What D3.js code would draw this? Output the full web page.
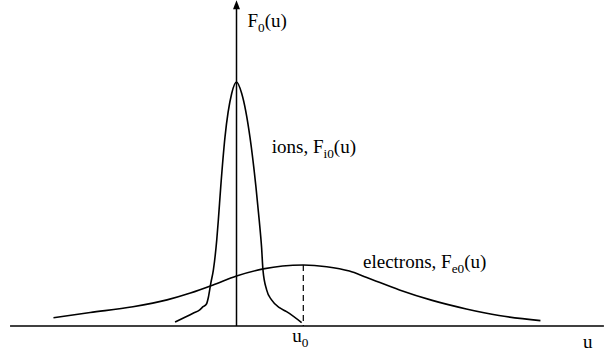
<!DOCTYPE html>
<html>
<head>
<meta charset="utf-8">
<script src="https://cdn.jsdelivr.net/npm/d3@7"></script>
<style>
body { margin: 0; background: #fff; }
</style>
</head>
<body>
<div id="chart"></div>
<script>
// ion distribution F_i0(u), narrow peak at u = 0
var ionU = [-0.92, -0.65, -0.55, -0.50, -0.45, -0.42, -0.385, -0.346, -0.296, -0.272, -0.236, -0.172, -0.072, 0,
            0.078, 0.201, 0.291, 0.340, 0.376, 0.396, 0.451, 0.525, 0.649, 0.749, 0.975];
var ionF = [0.016, 0.052, 0.066, 0.079, 0.090, 0.119, 0.175, 0.230, 0.352, 0.434, 0.570, 0.775, 0.953, 1.0,
            0.953, 0.775, 0.570, 0.434, 0.320, 0.230, 0.148, 0.107, 0.074, 0.059, 0.014];
// electron distribution F_e0(u), broad peak at u0
var elecU = [-2.74, -2.19, -1.55, -1.04, -0.69, -0.35, 0, 0.40, 0.69, 1.0, 1.35, 1.69, 1.94, 2.44, 2.93, 3.44, 3.93, 4.55];
var elecF = [0.034, 0.055, 0.079, 0.107, 0.135, 0.168, 0.205, 0.234, 0.246, 0.250, 0.243, 0.225, 0.200, 0.148, 0.105, 0.070, 0.043, 0.022];
var u0 = 1.0;
var axisU = [-3.39, 5.5];
var axisF = [0, 1.335];

var svg = d3.select("#chart")
  .append("svg")
  .attr("width", 604)
  .attr("height", 353);

var x = d3.scaleLinear().domain([0, 1]).range([236.5, 303.3]);
var y = d3.scaleLinear().domain([0, 1]).range([326, 82]);

var line = d3.line()
  .x(function (d) { return x(d[0]); })
  .y(function (d) { return y(d[1]); })
  .curve(d3.curveMonotoneX);

// axes
svg.append("line")
  .attr("x1", x(axisU[0])).attr("x2", x(axisU[1]))
  .attr("y1", y(0)).attr("y2", y(0))
  .attr("stroke", "#000").attr("stroke-width", 1.5);

svg.append("line")
  .attr("x1", x(0)).attr("x2", x(0))
  .attr("y1", y(0)).attr("y2", y(axisF[1]) + 6)
  .attr("stroke", "#000").attr("stroke-width", 1.5);

var tipY = y(axisF[1]);
svg.append("path")
  .attr("d", "M" + x(0) + "," + tipY + "L" + (x(0) - 3.5) + "," + (tipY + 9) + "L" + (x(0) + 3.5) + "," + (tipY + 9) + "Z")
  .attr("fill", "#000");

// curves
svg.append("path")
  .datum(d3.zip(ionU, ionF))
  .attr("d", line)
  .attr("fill", "none").attr("stroke", "#000").attr("stroke-width", 1.6);

svg.append("path")
  .datum(d3.zip(elecU, elecF))
  .attr("d", line)
  .attr("fill", "none").attr("stroke", "#000").attr("stroke-width", 1.6);

// dashed line at u0
var peakF = elecF[elecU.indexOf(u0)];
svg.append("line")
  .attr("x1", x(u0)).attr("x2", x(u0))
  .attr("y1", y(peakF)).attr("y2", y(0))
  .attr("stroke", "#000").attr("stroke-width", 1.2)
  .attr("stroke-dasharray", "6,4");

// labels
function label(px, py, parts, size, anchor) {
  var t = svg.append("text")
    .attr("x", px).attr("y", py)
    .attr("font-family", "'Liberation Serif', 'Times New Roman', serif")
    .attr("font-size", size)
    .attr("text-anchor", anchor || "start")
    .attr("fill", "#000");
  parts.forEach(function (p) {
    var s = t.append("tspan").text(p[0]);
    if (p[1] === "sub") s.attr("font-size", size * 0.7).attr("dy", 5);
    if (p[1] === "up") s.attr("dy", -5);
  });
  return t;
}

label(x(0) + 11, 27, [["F"], ["0", "sub"], ["(u)", "up"]], 19);
label(356, 153, [["ions, F"], ["i0", "sub"], ["(u)", "up"]], 19, "end");
label(363, 268, [["electrons, F"], ["e0", "sub"], ["(u)", "up"]], 19);
label(x(u0) - 11, 342, [["u"], ["0", "sub"]], 19);
label(583, 348, [["u"]], 19);
</script>
</body>
</html>
